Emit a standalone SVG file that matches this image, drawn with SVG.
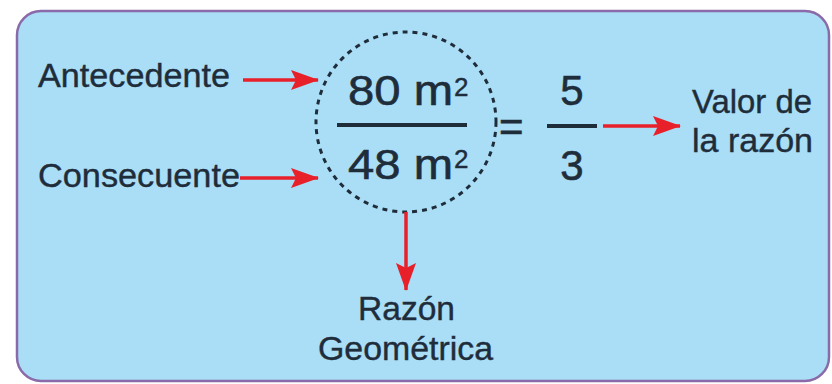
<svg xmlns="http://www.w3.org/2000/svg" width="832" height="384" viewBox="0 0 832 384">
<defs>
<marker id="ah" viewBox="0 0 28 20" refX="27" refY="10" markerWidth="28" markerHeight="20" orient="auto" markerUnits="userSpaceOnUse">
<path d="M0,0 L28,10 L0,20 L5,10 Z" fill="#e8202a"/>
</marker>
<style>
text{font-family:"Liberation Sans",Arial,sans-serif;fill:#1f2d3b;stroke:#1f2d3b;stroke-width:0.4}
.lbl{font-size:33px}
.num{font-size:42px;stroke-width:0.6}
.sup{font-size:26px}
.arr{stroke:#e8202a;stroke-width:3.5;fill:none;marker-end:url(#ah)}
.bar{stroke:#1f2d3b;stroke-width:4}
</style>
</defs>
<rect x="0" y="0" width="832" height="384" fill="#ffffff"/>
<rect id="panel" x="17" y="11" width="812" height="370" rx="24" fill="#a9def6" stroke="#8a6aa8" stroke-width="2.5"/>
<g id="ratio">
<circle cx="406" cy="122" r="90" fill="none" stroke="#1f2d3b" stroke-width="3" stroke-dasharray="5,5"/>
<text class="num" x="348" y="105" textLength="105" lengthAdjust="spacingAndGlyphs">80 m</text>
<text class="sup" x="454" y="96">2</text>
<line class="bar" x1="337" y1="125" x2="467" y2="125"/>
<text class="num" x="348" y="179" textLength="105" lengthAdjust="spacingAndGlyphs">48 m</text>
<text class="sup" x="454" y="168">2</text>
</g>
<g id="equals"><text class="num" x="499" y="141">=</text></g>
<g id="value">
<text class="num" x="572" y="105" text-anchor="middle">5</text>
<line class="bar" x1="547" y1="126" x2="597" y2="126"/>
<text class="num" x="572" y="180" text-anchor="middle">3</text>
</g>
<g id="antecedente"><text class="lbl" x="38" y="87" textLength="192" lengthAdjust="spacingAndGlyphs">Antecedente</text></g>
<g id="consecuente"><text class="lbl" x="38" y="187" textLength="202" lengthAdjust="spacingAndGlyphs">Consecuente</text></g>
<g id="valor">
<text class="lbl" x="692" y="113" textLength="120" lengthAdjust="spacingAndGlyphs">Valor de</text>
<text class="lbl" x="692" y="152" textLength="121" lengthAdjust="spacingAndGlyphs">la razón</text>
</g>
<g id="razon">
<text class="lbl" x="358" y="320" textLength="97" lengthAdjust="spacingAndGlyphs">Razón</text>
<text class="lbl" x="318" y="360" textLength="175" lengthAdjust="spacingAndGlyphs">Geométrica</text>
</g>
<g id="connectors">
<line class="arr" x1="243" y1="80" x2="318" y2="80"/>
<line class="arr" x1="240" y1="178" x2="318" y2="178"/>
<line class="arr" x1="603" y1="126" x2="680" y2="126"/>
<line class="arr" x1="406" y1="212" x2="406" y2="290"/>
</g>
</svg>
